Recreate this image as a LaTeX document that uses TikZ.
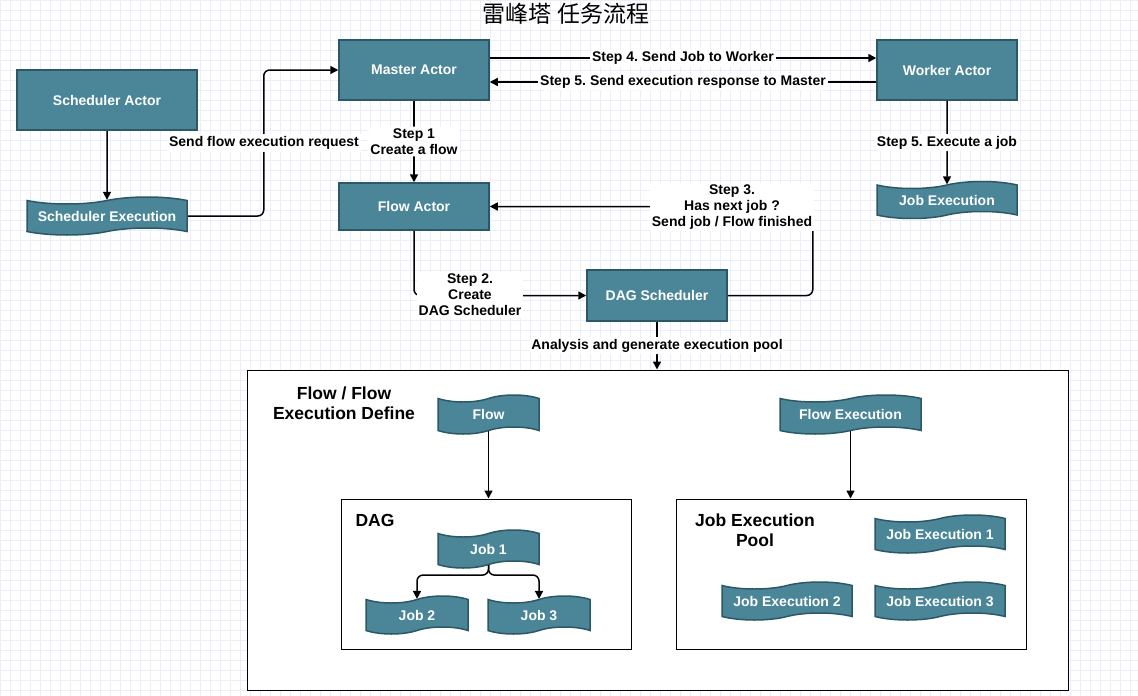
\documentclass[tikz,border=0pt]{standalone}
\usepackage{fontspec}
\setmainfont{Liberation Sans}
\newfontfamily\cjk{Noto Sans CJK SC}
\usetikzlibrary{shapes.symbols,arrows.meta}
\definecolor{actorfill}{RGB}{74,134,151}
\definecolor{actorline}{RGB}{44,88,102}
\definecolor{gridcol}{RGB}{236,236,250}
\frenchspacing

\begin{document}
\begin{tikzpicture}[x=1pt,y=-1pt,>={Triangle[length=8pt,width=8pt]},
  actor/.style={draw=actorline,line width=1.5pt,fill=actorfill,text=white,
    font=\fontsize{14pt}{16pt}\selectfont\bfseries},
  tapebox/.style={tape,draw=actorline,line width=1.5pt,fill=actorfill,text=white,
    font=\fontsize{14pt}{16pt}\selectfont\bfseries,tape bend height=7pt,inner sep=1pt},
  group/.style={draw=black,line width=1pt,fill=white},
  lbl/.style={fill=white,align=center,inner sep=2pt,font=\fontsize{14pt}{16pt}\selectfont\bfseries},
  grp/.style={align=center,font=\fontsize{17.5pt}{20pt}\selectfont\bfseries},
  conn/.style={line width=1.5pt,rounded corners=6pt}]
\useasboundingbox (0,0) rectangle (1138,696);
\draw [gridcol,line width=0.7pt,step=10pt] (0,0) grid (1138,696);
\node [font=\cjk\fontsize{23pt}{26pt}\selectfont] (title) at (566,14) {雷峰塔 任务流程};

% actors
\node [actor,minimum width=180pt,minimum height=60pt] (sched) at (107,100) {Scheduler Actor};
\node [actor,minimum width=150pt,minimum height=60pt] (master) at (414,70) {Master Actor};
\node [actor,minimum width=140pt,minimum height=60pt] (worker) at (947,70) {Worker Actor};
\node [actor,minimum width=150pt,minimum height=47pt] (flowactor) at (414,206.5) {Flow Actor};
\node [actor,minimum width=140pt,minimum height=51pt] (dagsched) at (657,295.5) {DAG Scheduler};
\node [tapebox,minimum width=160pt,minimum height=38pt] (schedexec) at (107,216) {Scheduler Execution};
\node [tapebox,minimum width=140pt,minimum height=37pt] (jobexec) at (947,200) {Job Execution};

% groups
\node [group,minimum width=821pt,minimum height=320pt] (outer) at (657.5,530) {};
\node [group,minimum width=290pt,minimum height=150pt] (dagbox) at (486,574) {};
\node [group,minimum width=350pt,minimum height=150pt] (poolbox) at (851,574) {};
\node [grp] (flowdef) at (344,403) {Flow / Flow\\Execution Define};
\node [grp] (dagtitle) at (375,520) {DAG};
\node [grp] (pooltitle) at (755,530) {Job Execution\\Pool};

\node [tapebox,minimum width=101pt,minimum height=39pt] (flow) at (488.5,414.5) {Flow};
\node [tapebox,minimum width=141pt,minimum height=39pt] (flowexec) at (850.5,414.5) {Flow Execution};
\node [tapebox,minimum width=101pt,minimum height=38pt] (job1) at (488.5,549) {Job 1};
\node [tapebox,minimum width=102pt,minimum height=38pt] (job2) at (417,615) {Job 2};
\node [tapebox,minimum width=102pt,minimum height=38pt] (job3) at (539,615) {Job 3};
\node [tapebox,minimum width=130pt,minimum height=38pt] (je1) at (940,534) {Job Execution 1};
\node [tapebox,minimum width=130pt,minimum height=38pt] (je2) at (787,601) {Job Execution 2};
\node [tapebox,minimum width=130pt,minimum height=38pt] (je3) at (940,601) {Job Execution 3};

% connectors
\draw [conn,->] (sched) -- (schedexec);
\draw [conn,->] (schedexec.east) -- ++(76,0) |- (master.west);
\node [lbl] (sendreq) at (264,143) {Send flow execution request};
\draw [conn,->] ([yshift=12pt]master.east) -- node [lbl] {Step 4. Send Job to Worker} ([yshift=12pt]worker.west);
\draw [conn,->] ([yshift=-12pt]worker.west) -- node [lbl] {Step 5. Send execution response to Master} ([yshift=-12pt]master.east);
\draw [conn,->] (master) -- node [lbl] {Step 1\\Create a flow} (flowactor);
\draw [conn,->] (worker) -- node [lbl] {Step 5. Execute a job} (jobexec);
\draw [conn,->] (flowactor.south) |- (dagsched.west);
\node [lbl] (step2) at (470,295) {Step 2.\\Create\\DAG Scheduler};
\draw [conn,->] (dagsched.east) -- ++(85,0) |- (flowactor.east);
\node [lbl] (step3) at (732,207) {Step 3.\\Has next job ?\\Send job / Flow finished};
\draw [conn,->] (dagsched.south) -- node [lbl] {Analysis and generate execution pool} (dagsched.south |- outer.north);
\draw [conn,->] (flow.south) -- (flow.south |- dagbox.north);
\draw [conn,->] (flowexec.south) -- (flowexec.south |- poolbox.north);
\draw [conn,->] (job1.south) -- ++(0,10) -| (job2.north);
\draw [conn,->] (job1.south) -- ++(0,10) -| (job3.north);
\end{tikzpicture}
\end{document}
